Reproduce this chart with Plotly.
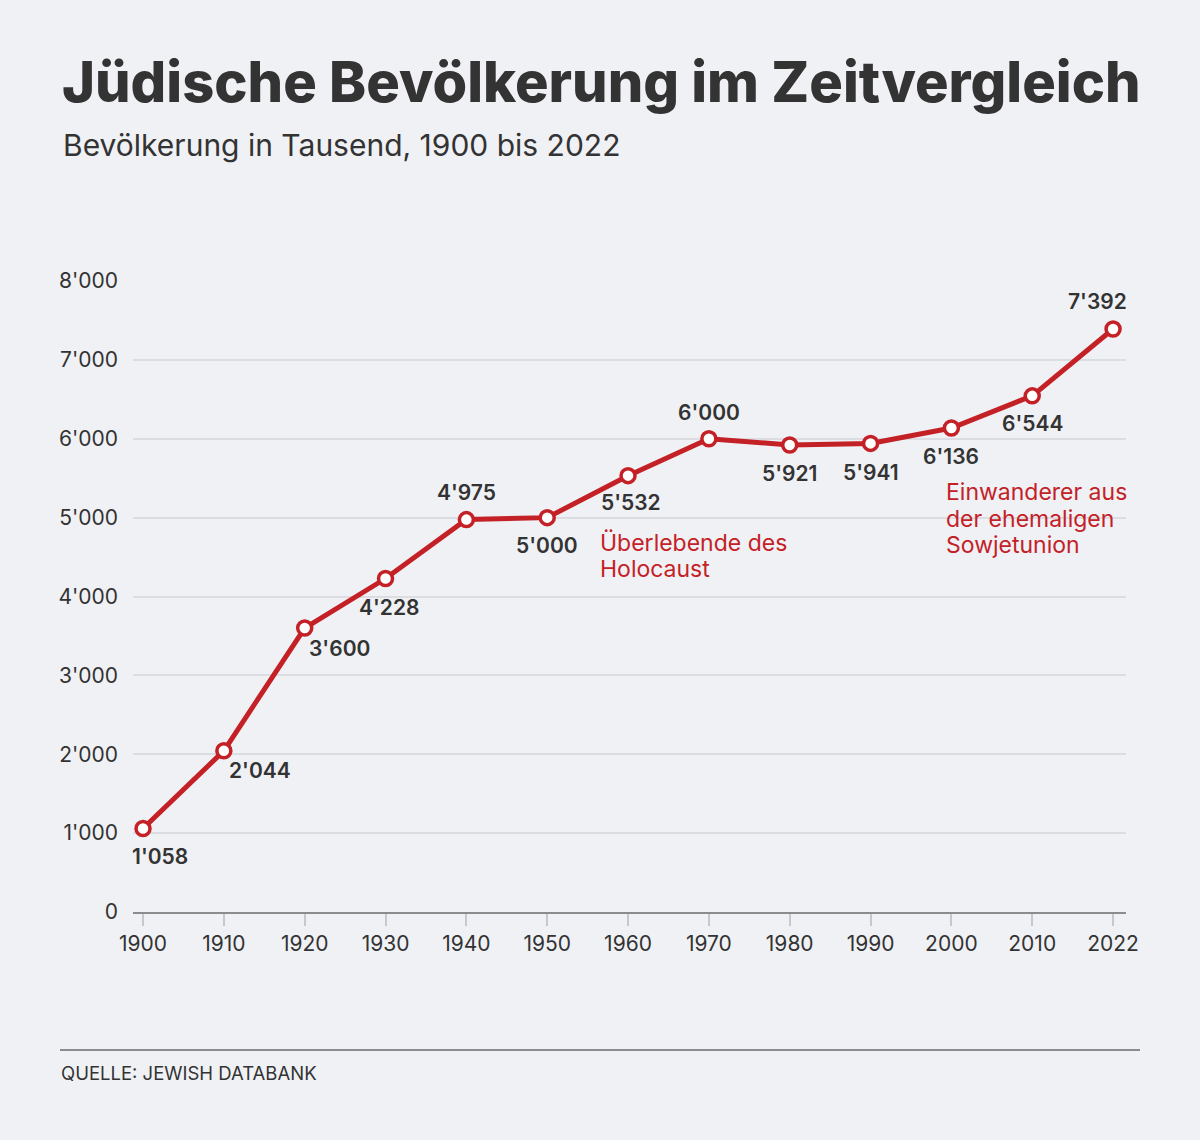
################################################################################
# Libraries
################################################################################
import plotly.graph_objects as go
################################################################################
# Data
################################################################################
years = ["1900", "1910", "1920", "1930", "1940", "1950", "1960",
         "1970", "1980", "1990", "2000", "2010", "2022"]
population = [1058, 2044, 3600, 4228, 4975, 5000, 5532,
              6000, 5921, 5941, 6136, 6544, 7392]
yTicks = [0, 1000, 2000, 3000, 4000, 5000, 6000, 7000, 8000]
noteHolocaust = ["Überlebende des", "Holocaust"]
noteSowjet = ["Einwanderer aus", "der ehemaligen", "Sowjetunion"]
################################################################################
# Config
################################################################################
W, H = 1200, 1140
L, R, T, B = 133, 74, 281, 228
bg = "#f0f1f5"
red = "#c42127"
dark = "#333333"
font = "Inter"
# label offsets (px) relative to the marker
labelShift = [(17, -28), (36, -20), (35, -20), (3, -29), (0, 27), (0, -28), (3, -27),
              (0, 26), (0, -29), (0, -29), (0, -28), (0, -28), (-16, 27)]

def px(x, y):
    return (x - L) / (W - L - R), (H - B - y) / (H - T - B)

def fmt(v):
    return f"{v:,}".replace(",", "'")

def textAt(x, y, text, size, color=dark, weight="normal"):
    xp, yp = px(x, y)
    return dict(x=xp, y=yp, xref="paper", yref="paper", xanchor="left", yanchor="middle",
                text=text, showarrow=False,
                font=dict(family=font, size=size, color=color, weight=weight))
################################################################################
# Plot
################################################################################
fig = go.Figure(go.Scatter(
    x=years, y=population, mode="lines+markers",
    line=dict(color=red, width=5),
    marker=dict(size=14, color="white", line=dict(color=red, width=3.5)),
    cliponaxis=False, hoverinfo="skip"))

ann = []
for i, (v, (dx, dy)) in enumerate(zip(population, labelShift)):
    ann.append(dict(x=i, y=v, xref="x", yref="y", text=fmt(v), showarrow=False,
                    xshift=dx, yshift=dy,
                    font=dict(family=font, size=21, color=dark, weight=600)))

ann.append(textAt(60, 82, "Jüdische Bevölkerung im Zeitvergleich", 56, weight=800))
ann.append(textAt(61, 145, "Bevölkerung in Tausend, 1900 bis 2022", 30))
for k, line in enumerate(noteHolocaust):
    ann.append(textAt(598, 543 + 26 * k, line, 23, color=red))
for k, line in enumerate(noteSowjet):
    ann.append(textAt(944, 492 + 26.5 * k, line, 23, color=red))
ann.append(textAt(59, 1073, "QUELLE: JEWISH DATABANK", 18.5))

lx0, ly = px(60, 1050)
lx1, _ = px(1140, 1050)
fig.add_shape(type="line", xref="paper", yref="paper", x0=lx0, x1=lx1, y0=ly, y1=ly,
              line=dict(color="#8c8c8c", width=2))

fig.update_layout(
    width=W, height=H, margin=dict(l=L, r=R, t=T, b=B),
    paper_bgcolor=bg, plot_bgcolor=bg, showlegend=False,
    separators=".'", annotations=ann,
    font=dict(family=font, color=dark))
fig.update_xaxes(type="category", range=[-0.124, 12.16], showgrid=False,
                 showline=True, linecolor="#8c8c8c", linewidth=2,
                 ticks="outside", ticklen=12, tickcolor="#c8c8cc", tickwidth=2,
                 tickfont=dict(size=21, color=dark), fixedrange=True)
fig.update_yaxes(range=[0, 8000], tickvals=yTicks, tickformat=",d",
                 showgrid=True, gridcolor="#dcdde2", gridwidth=2, zeroline=False,
                 ticklabelstandoff=14, tickfont=dict(size=21, color=dark), fixedrange=True)
fig.write_html("out.html", config={"displayModeBar": False},
               post_script="document.body.style.margin='0';")
